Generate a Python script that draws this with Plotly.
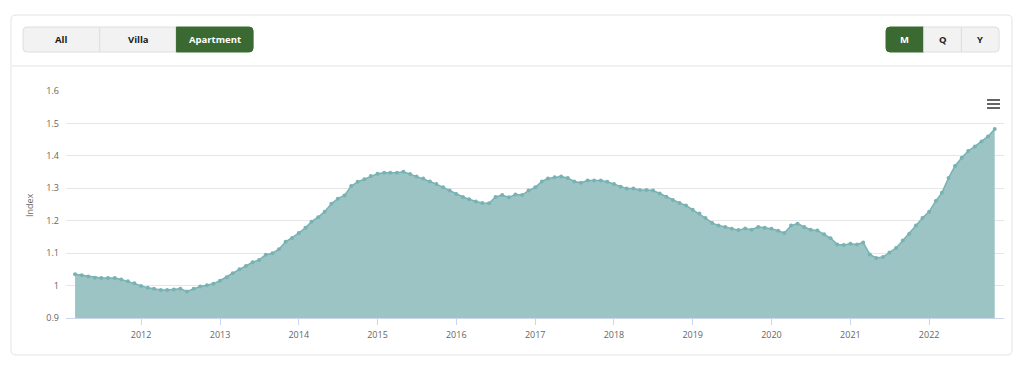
import plotly.graph_objects as go
import pandas as pd

# ---------------- data ----------------
start_month = "2011-03-01"
index_values = [
    1.035, 1.032, 1.028, 1.024, 1.023, 1.023, 1.023, 1.019, 1.013, 1.007,
    0.999, 0.993, 0.990, 0.986, 0.986, 0.988, 0.990, 0.982, 0.990, 0.997,
    1.001, 1.006, 1.015, 1.026, 1.038, 1.050, 1.060, 1.072, 1.079, 1.095,
    1.100, 1.112, 1.135, 1.147, 1.162, 1.178, 1.197, 1.211, 1.228, 1.252,
    1.268, 1.278, 1.307, 1.320, 1.328, 1.338, 1.345, 1.348, 1.348, 1.348,
    1.351, 1.344, 1.336, 1.330, 1.321, 1.313, 1.303, 1.293, 1.282, 1.273,
    1.266, 1.259, 1.255, 1.254, 1.273, 1.279, 1.272, 1.281, 1.279, 1.293,
    1.303, 1.321, 1.330, 1.334, 1.336, 1.332, 1.321, 1.317, 1.324, 1.324,
    1.324, 1.320, 1.313, 1.305, 1.299, 1.299, 1.295, 1.295, 1.293, 1.284,
    1.274, 1.264, 1.255, 1.247, 1.234, 1.222, 1.208, 1.193, 1.185, 1.181,
    1.175, 1.171, 1.176, 1.172, 1.181, 1.178, 1.175, 1.169, 1.162, 1.185,
    1.191, 1.181, 1.172, 1.170, 1.158, 1.146, 1.127, 1.125, 1.129, 1.127,
    1.133, 1.096, 1.085, 1.088, 1.102, 1.116, 1.139, 1.160, 1.185, 1.208,
    1.228, 1.261, 1.286, 1.332, 1.369, 1.394, 1.415, 1.429, 1.444, 1.460,
    1.483,
]
months = pd.date_range(start_month, periods=len(index_values), freq="MS")

y_tick_vals = [0.9, 1.0, 1.1, 1.2, 1.3, 1.4, 1.5, 1.6]
y_tick_text = ["0.9", "1", "1.1", "1.2", "1.3", "1.4", "1.5", "1.6"]
x_tick_vals = [f"{y}-01-01" for y in range(2012, 2023)]
x_tick_text = [str(y) for y in range(2012, 2023)]

type_buttons = ["All", "Villa", "Apartment"]
period_buttons = ["M", "Q", "Y"]
active_type = "Apartment"
active_period = "M"

# ---------------- geometry helpers ----------------
W, H = 1024, 381
GREEN = "#3a6a32"
FONT = "Open Sans"


def px(x):
    return x / W


def py(y):
    return (H - y) / H


def rrect(x0, y0, x1, y1, r=(4, 4, 4, 4)):
    """rounded rectangle path in paper coords; r = (tl, tr, br, bl) px"""
    tl, tr, br, bl = r
    p = f"M {px(x0 + tl)},{py(y0)} L {px(x1 - tr)},{py(y0)} "
    p += f"Q {px(x1)},{py(y0)} {px(x1)},{py(y0 + tr)} "
    p += f"L {px(x1)},{py(y1 - br)} Q {px(x1)},{py(y1)} {px(x1 - br)},{py(y1)} "
    p += f"L {px(x0 + bl)},{py(y1)} Q {px(x0)},{py(y1)} {px(x0)},{py(y1 - bl)} "
    p += f"L {px(x0)},{py(y0 + tl)} Q {px(x0)},{py(y0)} {px(x0 + tl)},{py(y0)} Z"
    return p


shapes = []
annotations = []

# card
shapes.append(dict(type="path", path=rrect(11, 15, 1012, 355, (5, 5, 5, 5)),
                   xref="paper", yref="paper", line=dict(color="#e3e3e3", width=1),
                   fillcolor="white", layer="below"))
# separator
shapes.append(dict(type="line", xref="paper", yref="paper",
                   x0=px(12), x1=px(1011), y0=py(66), y1=py(66),
                   line=dict(color="#ececec", width=1.5), layer="below"))


def button_group(labels, active, x_start, width, y0, y1):
    n = len(labels)
    for i, lab in enumerate(labels):
        xa = x_start + i * width
        xb = xa + width
        r = [0, 0, 0, 0]
        if i == 0:
            r[0] = r[3] = 4
        if i == n - 1:
            r[1] = r[2] = 4
        is_active = lab == active
        shapes.append(dict(type="path", path=rrect(xa, y0, xb, y1, tuple(r)),
                           xref="paper", yref="paper",
                           fillcolor=GREEN if is_active else "#f2f2f2",
                           line=dict(color=GREEN if is_active else "#dedede", width=1),
                           layer="below"))
        annotations.append(dict(x=px((xa + xb) / 2), y=py((y0 + y1) / 2),
                                xref="paper", yref="paper", text=f"<b>{lab}</b>",
                                showarrow=False, xanchor="center", yanchor="middle",
                                font=dict(family=FONT, size=9.5,
                                          color="white" if is_active else "#1a1a1a")))


button_group(type_buttons, active_type, 23, 76.7, 27, 52)
button_group(period_buttons, active_period, 886, 37.7, 27, 52)

# hamburger menu icon
for yy in (100, 104, 108):
    shapes.append(dict(type="rect", xref="paper", yref="paper",
                       x0=px(987), x1=px(1000), y0=py(yy - 1), y1=py(yy + 1),
                       fillcolor="#666666", line=dict(width=0)))

# y-axis title
annotations.append(dict(x=px(29), y=py(205), xref="paper", yref="paper",
                        text="Index", textangle=-90, showarrow=False,
                        xanchor="center", yanchor="middle",
                        font=dict(family=FONT, size=9, color="#666")))

fig = go.Figure()
fig.add_trace(go.Scatter(
    x=months, y=index_values, mode="lines+markers",
    fill="tozeroy", fillcolor="rgba(157,196,197,1)",
    line=dict(color="#78b2b3", width=1.5),
    marker=dict(size=4, color="#78b2b3"),
    hoverinfo="x+y", showlegend=False,
))

fig.update_layout(
    width=W, height=H, autosize=False,
    margin=dict(l=0, r=0, t=0, b=0, pad=0),
    paper_bgcolor="white", plot_bgcolor="rgba(0,0,0,0)",
    font=dict(family=FONT, color="#666"),
    shapes=shapes, annotations=annotations,
    xaxis=dict(
        domain=[px(66), px(1004)],
        type="date", automargin=False,
        range=["2011-01-18", "2022-12-14"],
        tickvals=x_tick_vals, ticktext=x_tick_text,
        showgrid=False, zeroline=False,
        showline=True, linecolor="#ccd6eb", linewidth=1,
        ticks="outside", ticklen=6, tickcolor="#ccd6eb", tickwidth=1,
        ticklabelstandoff=2,
        tickfont=dict(family=FONT, size=9, color="#666"),
        fixedrange=True,
    ),
    yaxis=dict(
        domain=[py(318), py(91)],
        range=[0.9, 1.6], automargin=False,
        tickvals=y_tick_vals, ticktext=y_tick_text,
        showgrid=True, gridcolor="#e6e6e6", gridwidth=1,
        zeroline=False, showline=False,
        ticks="", ticklabelstandoff=6,
        tickfont=dict(family=FONT, size=9, color="#666"),
        fixedrange=True,
    ),
)

fig.write_html("out.html", config={"displayModeBar": False},
               post_script="document.body.style.margin='0';")
